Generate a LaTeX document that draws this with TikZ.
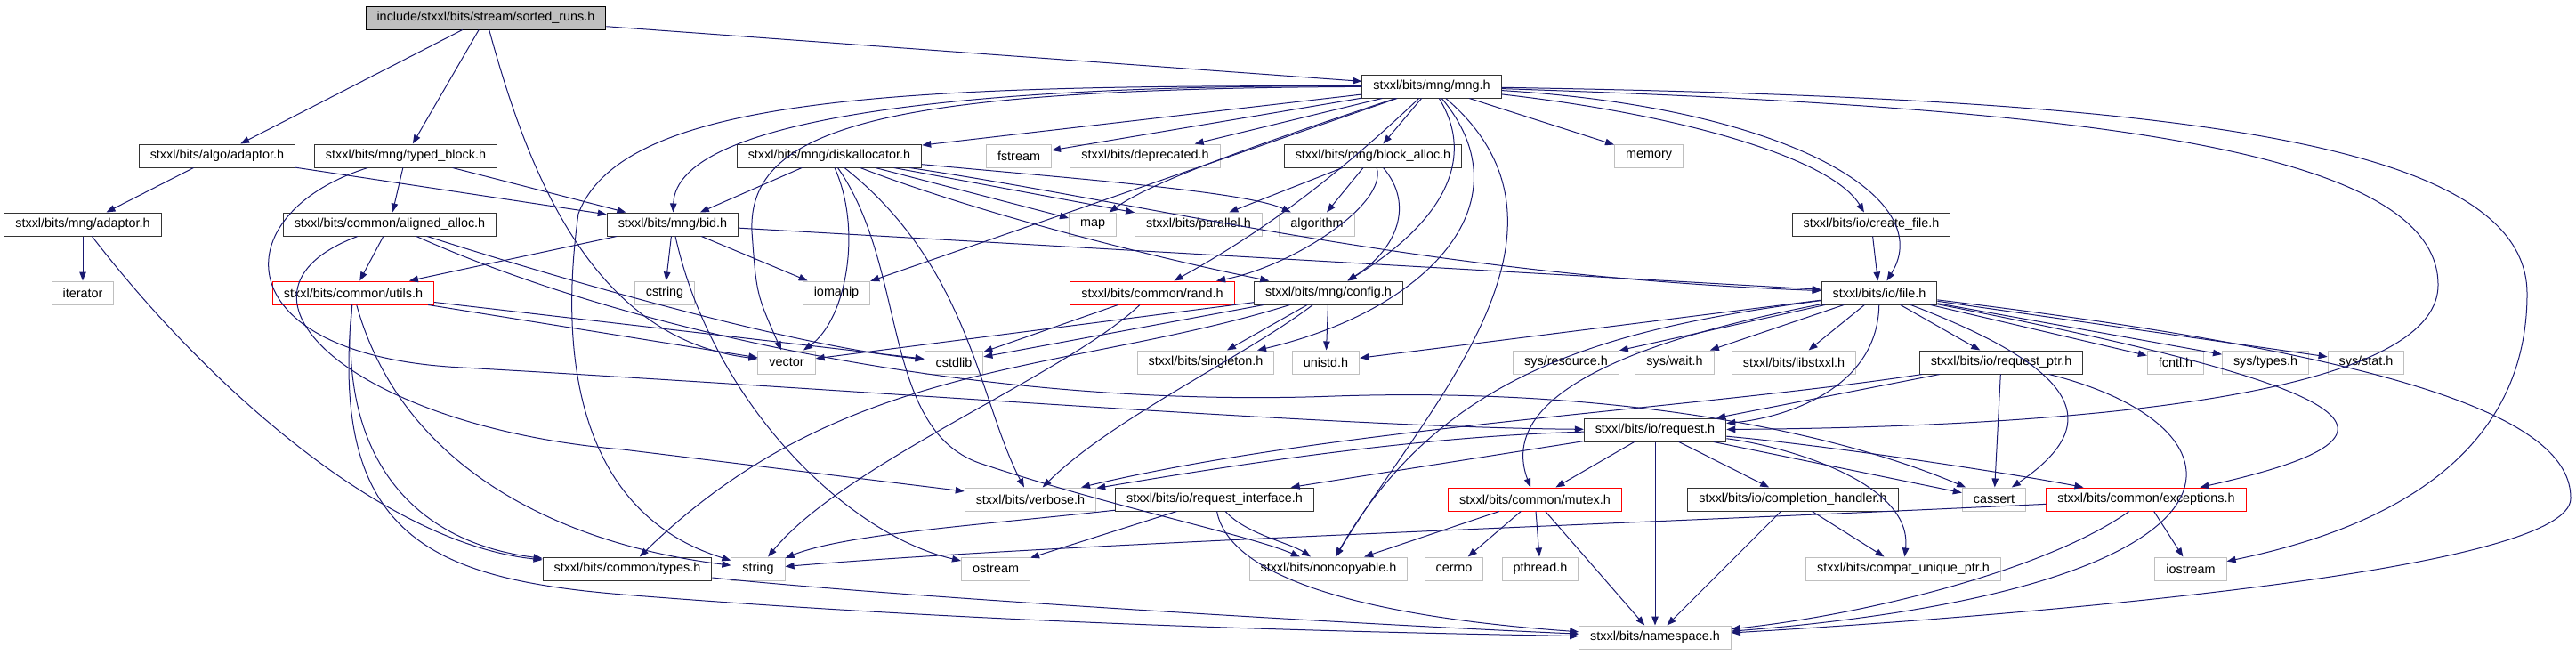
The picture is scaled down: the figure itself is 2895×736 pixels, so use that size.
\documentclass[tikz,border=0pt]{standalone}
\usepackage{fontspec}
\setmainfont{Liberation Sans}
\usetikzlibrary{arrows.meta}
\definecolor{edgeblue}{RGB}{25,25,112}
\definecolor{extgray}{RGB}{191,191,191}
\tikzset{
  box/.style={rectangle, line width=1pt, fill=white, minimum height=26pt,
    inner xsep=12.5pt, inner ysep=0pt, font=\fontsize{14.4}{17}\selectfont},
  root/.style={box, draw=black, fill=extgray},
  doc/.style={box, draw=black!80},
  ext/.style={box, draw=extgray},
  trunc/.style={box, draw=red},
  dep/.style={draw=edgeblue, line width=1pt, -{Triangle[length=10pt,width=7.5pt]}}
}
\begin{document}
\begin{tikzpicture}[x=1pt, y=-1pt]
\useasboundingbox (0,0) rectangle (2895,736);
% files
\node[root] (sr) at (546,20) {include/stxxl/bits/stream/sorted\_runs.h};
\node[doc] (mng) at (1609,97) {stxxl/bits/mng/mng.h};
\node[doc] (aadapt) at (244,175) {stxxl/bits/algo/adaptor.h};
\node[doc] (typed) at (456,175) {stxxl/bits/mng/typed\_block.h};
\node[doc] (disk) at (932,175) {stxxl/bits/mng/diskallocator.h};
\node[ext] (fstream) at (1145,175) {fstream};
\node[ext] (depr) at (1287,175) {stxxl/bits/deprecated.h};
\node[doc] (balloc) at (1543,175) {stxxl/bits/mng/block\_alloc.h};
\node[ext] (memory) at (1853,175) {memory};
\node[doc] (madapt) at (93,252) {stxxl/bits/mng/adaptor.h};
\node[doc] (aligned) at (438,252) {stxxl/bits/common/aligned\_alloc.h};
\node[doc] (bid) at (756,252) {stxxl/bits/mng/bid.h};
\node[ext] (map) at (1228,252) {map};
\node[ext] (parallel) at (1347,252) {stxxl/bits/parallel.h};
\node[ext] (algo) at (1480,252) {algorithm};
\node[doc] (cfile) at (2103,252) {stxxl/bits/io/create\_file.h};
\node[ext] (iterator) at (93,329) {iterator};
\node[trunc] (utils) at (397,329) {stxxl/bits/common/utils.h};
\node[ext] (cstring) at (747,329) {cstring};
\node[ext] (iomanip) at (940,329) {iomanip};
\node[trunc] (rand) at (1295,329) {stxxl/bits/common/rand.h};
\node[doc] (config) at (1493,329) {stxxl/bits/mng/config.h};
\node[doc] (file) at (2112,329) {stxxl/bits/io/file.h};
\node[ext] (vector) at (884,407) {vector};
\node[ext] (cstdlib) at (1072,407) {cstdlib};
\node[ext] (single) at (1355,407) {stxxl/bits/singleton.h};
\node[ext] (unistd) at (1490,407) {unistd.h};
\node[ext] (resource) at (1760,407) {sys/resource.h};
\node[ext] (wait) at (1882,407) {sys/wait.h};
\node[ext] (libstxxl) at (2016,407) {stxxl/bits/libstxxl.h};
\node[doc] (reqptr) at (2249,407) {stxxl/bits/io/request\_ptr.h};
\node[ext] (fcntl) at (2445,407) {fcntl.h};
\node[ext] (systypes) at (2546,407) {sys/types.h};
\node[ext] (sysstat) at (2659,407) {sys/stat.h};
\node[doc] (request) at (1860,483) {stxxl/bits/io/request.h};
\node[ext] (verbose) at (1158,561) {stxxl/bits/verbose.h};
\node[doc] (reqif) at (1365,561) {stxxl/bits/io/request\_interface.h};
\node[trunc] (mutex) at (1725,561) {stxxl/bits/common/mutex.h};
\node[doc] (compl) at (2015,561) {stxxl/bits/io/completion\_handler.h};
\node[ext] (cassert) at (2241,561) {cassert};
\node[trunc] (except) at (2412,561) {stxxl/bits/common/exceptions.h};
\node[doc] (types) at (705,639) {stxxl/bits/common/types.h};
\node[ext] (string) at (852,639) {string};
\node[ext] (ostream) at (1119,639) {ostream};
\node[ext] (noncopy) at (1493,639) {stxxl/bits/noncopyable.h};
\node[ext] (cerrno) at (1634,639) {cerrno};
\node[ext] (pthread) at (1731,639) {pthread.h};
\node[ext] (compat) at (2139,639) {stxxl/bits/compat\_unique\_ptr.h};
\node[ext] (iostream) at (2462,639) {iostream};
\node[ext] (nspace) at (1860,716) {stxxl/bits/namespace.h};
% sorted_runs.h
\draw[dep] (sr) -- (mng);
\draw[dep] (sr) -- (aadapt);
\draw[dep] (sr) -- (typed);
\draw[dep] (sr) .. controls (590,180) and (660,380) .. (vector);
% adaptors
\draw[dep] (aadapt) -- (madapt);
\draw[dep] (aadapt) -- (bid);
\draw[dep] (madapt) -- (iterator);
\draw[dep] (madapt) .. controls (230,430) and (430,610) .. (types);
% typed_block.h
\draw[dep] (typed) -- (aligned);
\draw[dep] (typed) -- (bid);
\draw[dep] (typed) .. controls (250,240) and (250,400) .. (520,413) .. controls (1000,440) and (1500,480) .. (request);
% aligned_alloc.h
\draw[dep] (aligned) -- (utils);
\draw[dep] (aligned) .. controls (230,330) and (400,480) .. (700,505) -- (verbose);
\draw[dep] (aligned) .. controls (650,320) and (900,390) .. (cstdlib);
\draw[dep] (aligned) .. controls (700,370) and (1100,460) .. (1500,445) .. controls (1800,435) and (2050,480) .. (cassert);
% utils.h
\draw[dep] (utils) -- (vector);
\draw[dep] (utils) -- (cstdlib);
\draw[dep] (utils) .. controls (380,520) and (470,610) .. (types);
\draw[dep] (utils) .. controls (370,600) and (480,650) .. (700,668) .. controls (1100,700) and (1500,710) .. (nspace);
\draw[dep] (utils) .. controls (450,520) and (620,610) .. (string);
% bid.h
\draw[dep] (bid) -- (cstring);
\draw[dep] (bid) -- (iomanip);
\draw[dep] (bid) .. controls (800,450) and (950,600) .. (ostream);
\draw[dep] (bid) -- (file);
\draw[dep] (bid) -- (utils);
% mng.h
\draw[dep] (mng) .. controls (1100,95) and (760,130) .. (bid);
\draw[dep] (mng) -- (disk);
\draw[dep] (mng) -- (fstream);
\draw[dep] (mng) -- (depr);
\draw[dep] (mng) -- (balloc);
\draw[dep] (mng) -- (memory);
\draw[dep] (mng) .. controls (1450,150) and (1300,200) .. (map);
\draw[dep] (mng) .. controls (1000,100) and (840,140) .. (845,260) .. controls (850,330) .. (vector);
\draw[dep] (mng) .. controls (1000,95) and (700,110) .. (650,240) .. controls (625,420) and (660,580) .. (string);
\draw[dep] (mng) -- (iomanip);
\draw[dep] (mng) .. controls (1500,200) and (1420,260) .. (rand);
\draw[dep] (mng) .. controls (1660,180) and (1620,250) .. (config);
\draw[dep] (mng) .. controls (1720,230) and (1600,350) .. (single);
\draw[dep] (mng) .. controls (1800,260) and (1600,460) .. (noncopy);
\draw[dep] (mng) .. controls (1900,130) and (2060,180) .. (cfile);
\draw[dep] (mng) .. controls (2000,120) and (2180,220) .. (file);
\draw[dep] (mng) .. controls (2300,120) and (2740,160) .. (2740,320) .. controls (2740,450) and (2300,480) .. (request);
\draw[dep] (mng) .. controls (2400,110) and (2840,150) .. (2840,330) .. controls (2840,530) and (2650,600) .. (iostream);
% diskallocator.h
\draw[dep] (disk) -- (bid);
\draw[dep] (disk) .. controls (970,260) and (950,360) .. (vector);
\draw[dep] (disk) .. controls (1020,300) and (990,480) .. (1100,520) .. controls (1250,570) and (1400,600) .. (noncopy);
\draw[dep] (disk) .. controls (1090,300) and (1100,450) .. (verbose);
\draw[dep] (disk) -- (map);
\draw[dep] (disk) -- (parallel);
\draw[dep] (disk) .. controls (1200,200) and (1400,215) .. (algo);
\draw[dep] (disk) .. controls (1100,240) and (1300,290) .. (config);
\draw[dep] (disk) .. controls (1300,230) and (1600,310) .. (file);
% block_alloc.h
\draw[dep] (balloc) -- (parallel);
\draw[dep] (balloc) -- (algo);
\draw[dep] (balloc) .. controls (1560,230) and (1450,300) .. (rand);
\draw[dep] (balloc) .. controls (1590,230) and (1570,280) .. (config);
% create_file.h, rand.h, config.h
\draw[dep] (cfile) -- (file);
\draw[dep] (rand) -- (cstdlib);
\draw[dep] (rand) .. controls (1200,420) and (950,520) .. (string);
\draw[dep] (config) -- (vector);
\draw[dep] (config) -- (cstdlib);
\draw[dep] (config) -- (single);
\draw[dep] (config) -- (unistd);
\draw[dep] (config) .. controls (1400,400) and (1250,470) .. (verbose);
\draw[dep] (config) .. controls (1200,420) and (950,400) .. (types);
% file.h
\draw[dep] (file) -- (unistd);
\draw[dep] (file) .. controls (1800,370) and (1620,420) .. (noncopy);
\draw[dep] (file) .. controls (1850,380) and (1680,440) .. (mutex);
\draw[dep] (file) -- (resource);
\draw[dep] (file) -- (wait);
\draw[dep] (file) -- (libstxxl);
\draw[dep] (file) .. controls (2110,440) and (2000,470) .. (request);
\draw[dep] (file) -- (reqptr);
\draw[dep] (file) -- (fcntl);
\draw[dep] (file) -- (systypes);
\draw[dep] (file) -- (sysstat);
\draw[dep] (file) .. controls (2350,420) and (2360,480) .. (cassert);
\draw[dep] (file) .. controls (2680,440) and (2730,490) .. (except);
\draw[dep] (file) .. controls (2700,400) and (2890,470) .. (2889,560) .. controls (2889,640) and (2300,690) .. (nspace);
% request_ptr.h
\draw[dep] (reqptr) -- (request);
\draw[dep] (reqptr) -- (cassert);
\draw[dep] (reqptr) .. controls (2540,480) and (2560,660) .. (nspace);
\draw[dep] (reqptr) .. controls (1900,460) and (1500,480) .. (verbose);
% request.h
\draw[dep] (request) .. controls (1600,490) and (1400,520) .. (verbose);
\draw[dep] (request) -- (reqif);
\draw[dep] (request) -- (mutex);
\draw[dep] (request) -- (nspace);
\draw[dep] (request) -- (compl);
\draw[dep] (request) -- (cassert);
\draw[dep] (request) .. controls (2050,500) and (2250,530) .. (except);
\draw[dep] (request) .. controls (2000,500) and (2150,540) .. (compat);
% request_interface.h
\draw[dep] (reqif) .. controls (1100,590) and (950,600) .. (string);
\draw[dep] (reqif) -- (ostream);
\draw[dep] (reqif) .. controls (1400,600) and (1450,610) .. (noncopy);
\draw[dep] (reqif) .. controls (1380,640) and (1500,690) .. (nspace);
% mutex.h, completion_handler.h, exceptions.h, types.h
\draw[dep] (mutex) -- (noncopy);
\draw[dep] (mutex) -- (cerrno);
\draw[dep] (mutex) -- (pthread);
\draw[dep] (mutex) -- (nspace);
\draw[dep] (compl) -- (nspace);
\draw[dep] (compl) -- (compat);
\draw[dep] (except) .. controls (1800,590) and (1200,610) .. (string);
\draw[dep] (except) .. controls (2300,640) and (2100,690) .. (nspace);
\draw[dep] (except) -- (iostream);
\draw[dep] (types) .. controls (1000,670) and (1500,700) .. (nspace);
\end{tikzpicture}
\end{document}
